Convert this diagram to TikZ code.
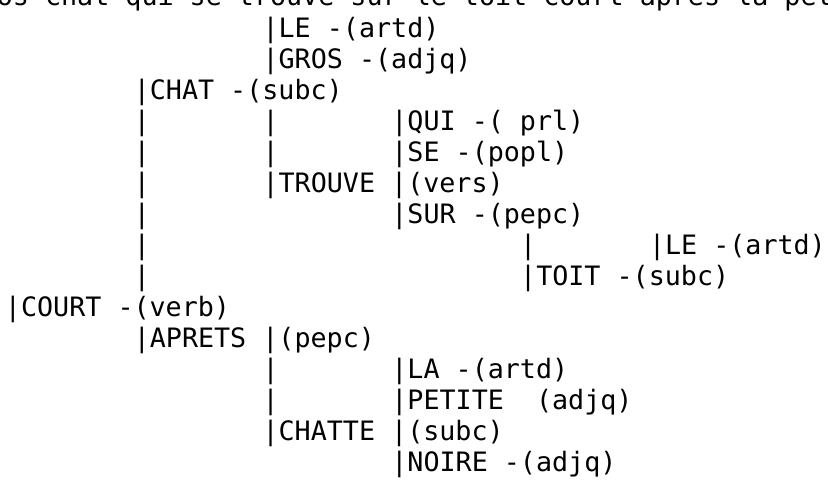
\documentclass[tikz,border=0pt]{standalone}
\usepackage{fontspec}
\newfontfamily\treemono{DejaVu Sans Mono}
\begin{document}
\begin{tikzpicture}[x=1pt,y=-1pt,
  row/.style={anchor=base west,inner sep=0pt,outer sep=0pt,
    font=\treemono\fontsize{26.7}{26.7}\selectfont,text=black}]
\useasboundingbox (0,0) rectangle (828,484);
\fill[white] (0,0) rectangle (828,484);
\begin{scope}
\clip (0,0) rectangle (828,484);
% columns (cell start): X0=5, X1=133.8, X2=262.6, X3=391.4, X4=520.2, X5=649
% baselines: 37.5 + 31 i
\node[row] (top) at (-35.3,5.5) {gros chat qui se trouve sur le toit court après la petite chatte noire};
% row 0
\node[row] (le1) at (262.6,37.5) {|LE -(artd)};
% row 1
\node[row] (gros) at (262.6,68.5) {|GROS -(adjq)};
% row 2
\node[row] (chat) at (133.8,99.5) {|CHAT -(subc)};
% row 3
\node[row] (p3a) at (133.8,130.5) {|};
\node[row] (p3b) at (262.6,130.5) {|};
\node[row] (qui) at (391.4,130.5) {|QUI -( prl)};
% row 4
\node[row] (p4a) at (133.8,161.5) {|};
\node[row] (p4b) at (262.6,161.5) {|};
\node[row] (se) at (391.4,161.5) {|SE -(popl)};
% row 5
\node[row] (p5a) at (133.8,192.5) {|};
\node[row] (trouve) at (262.6,192.5) {|TROUVE |(vers)};
% row 6
\node[row] (p6a) at (133.8,223.5) {|};
\node[row] (sur) at (391.4,223.5) {|SUR -(pepc)};
% row 7
\node[row] (p7a) at (133.8,254.5) {|};
\node[row] (p7b) at (520.2,254.5) {|};
\node[row] (le2) at (649,254.5) {|LE -(artd)};
% row 8
\node[row] (p8a) at (133.8,285.5) {|};
\node[row] (toit) at (520.2,285.5) {|TOIT -(subc)};
% row 9
\node[row] (court) at (5,316.5) {|COURT -(verb)};
% row 10
\node[row] (apres) at (133.8,347.5) {|APRETS |(pepc)};
% row 11
\node[row] (p11a) at (262.6,378.5) {|};
\node[row] (la) at (391.4,378.5) {|LA -(artd)};
% row 12
\node[row] (p12a) at (262.6,409.5) {|};
\node[row] (petite) at (391.4,409.5) {|PETITE\ \ (adjq)};
% row 13
\node[row] (chatte) at (262.6,440.5) {|CHATTE |(subc)};
% row 14
\node[row] (noire) at (391.4,471.5) {|NOIRE -(adjq)};
\end{scope}
\end{tikzpicture}
\end{document}
